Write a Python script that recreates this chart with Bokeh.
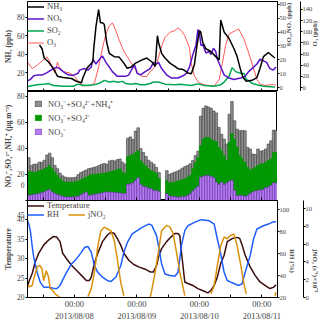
import math
from bokeh.plotting import figure
from bokeh.models import Range1d, LinearAxis, FixedTicker, Legend, LegendItem
from bokeh.layouts import column
from bokeh.embed import file_html
from bokeh.resources import INLINE

nan = float("nan")

# ---------------- time axis: hours since 2013-08-07 06:00 ----------------
day_ticks = [18, 42, 66, 90]
noon_ticks = [6, 30, 54, 78]
day_labels = ["00:00\n2013/08/08", "00:00\n2013/08/09", "00:00\n2013/08/10", "00:00\n2013/08/11"]

# ---------------- panel 1: gases ----------------
nh3_t = [4.6, 5.6, 6.4, 8.0, 9.9, 11.5, 13.7, 16.9, 18.8, 20.7, 21.3, 22.8, 24.1, 25.1, 25.4,
         26.3, 27.3, 28.0, 28.8, 29.5, 30.4, 31.4, 33.3, 35.2, 37.0, 38.3, 39.6, 41.5, 44.0, 45.8,
         47.7, 49.0, 49.9, 50.3, 51.5, 52.8, 54.7, 56.6, 57.8, 59.7, 61.6, 62.9, 64.1, 65.1, 66.0,
         66.5, 67.3, 68.5, 70.4, 72.3, 73.6, 74.2, 75.5, 77.4, 79.3, 80.5, 81.8, 82.8, 84.0, 86.2,
         88.1, 89.3, 90.6, 92.5, 93.7, 95.0]
nh3 = [50, 46, 36, 32, 25, 16.5, 15, 14, 11, 9.5, 15, 25, 29, 32, 45,
       70, 88, 74, 74, 72, 53, 41, 37.5, 37, 30.5, 25, 26, 30.5, 34, 36,
       32, 27, 60, 53, 41, 36, 30.5, 27, 24.5, 23.7, 20, 19, 29, 50, 65.6,
       64, 53, 46, 43, 37.5, 34, 77, 64, 57, 46, 37.5, 23.5, 15, 11, 12,
       15, 25, 37.5, 42, 39, 36]

nox_t = [0, 1.1, 2.4, 3.7, 5.6, 7.5, 9.3, 11.2, 12.5, 13.7, 15.6, 17.5, 19.4, 20.0, 21.9,
         23.2, 24.5, 25.1, 26.3, 27.6, 28.8, 29.5, 30.1, 31.4, 32.6, 34.5, 37.7, 38.9, 40.2, 41.2,
         42.1, 43.4, 45.2, 47.1, 48.4, 49.6, 50.3, 51.5, 53.4, 55.3, 57.8, 59.7, 61.0, 62.2, 63.5,
         64.7, 65.4, 66.0, 66.6, 67.3, 68.5, 69.8, 70.4, 71.4, 72.3, 72.9, 74.2, 75.5, 77.4, 79.3,
         81.8, 83.6, 84.9, 86.2, 88.1, 89.3, 90.6, 91.8, 93.1, 94.4, 95.4]
nox = [4.7, 5.9, 8.5, 9, 9, 10.8, 13, 14.8, 13.5, 11.5, 9.2, 8.8, 10.3, 12.6, 13.7,
       12.6, 14.8, 20.4, 17, 20.4, 22.7, 20.4, 18.2, 14.8, 11.5, 8.1, 8.1, 9.2, 13.7, 16,
       10.3, 9.2, 11.5, 13.7, 18.2, 17, 18.2, 13.7, 9.2, 6.9, 6.9, 8.5, 10.3, 14.8, 23.8,
       30.5, 41.8, 39.5, 30.5, 31, 24.9, 26, 23.8, 28.3, 26, 20.4, 14.8, 9.2, 6.9, 5.9,
       6.9, 8.1, 11.5, 13.7, 17, 20.4, 19.3, 18.2, 13.7, 12.6, 14.8]

so2_t = [0, 3.7, 6.2, 8.1, 9.9, 13.7, 17.5, 19.4, 21.3, 25.1, 27.6, 29.5, 31.4, 33.3, 34.5,
         36.4, 37.7, 39.6, 41.5, 43.4, 45.2, 47.1, 48.4, 49.6, 50.3, 52.8, 56.6, 58.5, 60.4, 62.9,
         65.4, 67.9, 71.7, 74.2, 75.5, 77.4, 78.6, 79.9, 81.8, 83.3, 84.0, 84.9, 86.2, 88.1, 90.6,
         95.0]
so2 = [0.8, 2, 2.5, 2.9, 1.5, 1, 1, 2.5, 1.5, 1.8, 3.1, 5.2, 4, 4.5, 3.8,
       4.5, 3, 2.5, 3, 2, 2, 3, 4, 4, 4, 2.5, 2, 2.5, 2, 1.5,
       2.7, 1.5, 1, 2, 4, 8.1, 14.4, 11.5, 10.3, 9.9, 5.9, 5, 3.1, 2, 1,
       0.5]

o3_t = [0, 1.8, 3.7, 5.6, 7.5, 8.4, 9.3, 10.6, 11.5, 12.2, 13.7, 16.3, 18.1, 20.0, 21.9,
        23.8, 25.7, 27.3, 28.8, 30.1, 31.4, 32.6, 33.9, 35.2, 37.0, 38.9, 40.8, 42.4, 44.0, 45.8,
        47.1, 48.4, 49.6, 51.5, 52.8, 54.7, 56.6, 57.8, 59.1, 60.4, 62.2, 62.9, 64.1, 66.0, 68.5,
        71.7, 73.6, 74.8, 76.1, 77.4, 79.9, 81.1, 83.0, 84.3, 85.5, 86.8, 88.1, 89.3, 91.2, 93.1,
        94.4, 95.4]
o3 = [45.5, 34, 40, 48, 55, 48, 37, 26, 45.5, 37, 28.7, 26, 20, 8, 3.4,
      3.4, 8, 37, 71, 96, 110, 116, 102, 85, 65, 51, 37, 26, 20, 20,
      28.7, 34, 42.7, 74, 90, 99, 102, 107, 102, 93, 71, 43, 20, 8, 4.5,
      2.5, 14.7, 43, 76, 96, 102, 105, 88, 71, 54, 34, 14.7, 6, 4, 5,
      6, 4]

# ---------------- panel 2: hourly aerosol bars ----------------
bar_hour = list(range(0, 51)) + list(range(53, 96))
total_ion = [33, 27, 28, 28, 29.5, 29.5, 31, 35, 36.5, 33, 27, 24.5, 21, 19, 18, 17.5, 17.5,
             17.5, 18, 20, 21.5, 22.5, 23.5, 24.5, 25, 25.5, 26, 27, 28, 28.5, 28, 30.5, 31,
             30.5, 31.5, 32, 29.5, 28, 48, 49, 47, 53.5, 56, 40, 37, 34, 31, 29.5, 28, 25.5, 21.5,
             23, 20, 21, 21.8, 22.6, 23.6, 25, 26.2, 27, 28.3, 30.9, 34.6, 38, 65, 71, 72.9, 72,
             71, 69, 67.5, 56.3, 51, 47.3, 43.5, 66.5, 76.2, 61.4, 55, 53.7, 54, 53.7, 41, 39.7,
             35.8, 35.4, 39.7, 38, 38.4, 39.7, 43.5, 46, 54.2, 54]
no3_so4 = [22.5, 22, 21.8, 22, 23, 23.5, 24.4, 25.5, 27, 24.4, 21.8, 19.3, 16.7, 15, 14.2, 14.2,
           14.2, 14.2, 14.5, 15, 16, 17, 18, 19, 20, 20, 20.5, 20.5, 20.8, 21, 21.5, 22, 22.6,
           23, 24, 24.4, 21.8, 21, 33.8, 34.6, 35.5, 37, 38.4, 30.8, 28.3, 26.5, 24.4, 23, 22, 21, 17,
           15.4, 13.4, 13.8, 14.2, 14.8, 15.4, 16, 16.7, 18, 19.3, 24.4, 29.5, 33, 42.3, 47.3,
           48.6, 48.6, 47.3, 46, 45.5, 41, 38.4, 34.6, 30.8, 44.8, 51.7, 47.3, 41, 34.6, 32,
           29.5, 25.6, 23.6, 24.4, 25.6, 27, 28.3, 28.3, 29.5, 30.8, 32, 37, 37]
no3 = [4, 4.2, 4.7, 5, 5.4, 6, 6.5, 7.8, 8.3, 6.5, 5.4, 4.5, 4, 3.1, 2.7, 2.7, 2.7, 2.7, 3.1,
       3.1, 4.5, 5.4, 6.5, 4, 4.2, 4.7, 5, 5.4, 5.8, 6.5, 6.5, 6.5, 6.5, 6.2, 6, 5.8, 5.4, 5.4,
       12.4, 12.9, 13.5, 15.4, 17.5, 12.4, 10.9, 10.4, 9.5, 9, 7.8, 7.8, 7,
       5.2, 3.4, 3.1, 3.1, 2.6, 2.6, 3.1, 3.1, 3.8, 5.2, 7.3, 9, 10.9, 18, 18.7, 19.3, 19.3,
       18.4, 17.5, 14.2, 12.4, 14.2, 12.4, 13.5, 15, 15.4, 7.8, 3.8, 3.8, 3.8, 3.1, 3.8, 5.2,
       6.5, 7.3, 7.8, 8.3, 8.3, 9.9, 10.4, 11.7, 13.5, 13.5]

# ---------------- panel 3: meteorology ----------------
temp_t = [0, 0.5, 1.8, 3.0, 4.3, 6.2, 8.1, 9.9, 11.2, 12.5, 13.5, 15.0, 16.9, 18.8, 20.7,
          22.6, 23.8, 24.5, 25.7, 27.0, 28.8, 30.7, 32.0, 33.3, 34.5, 35.8, 37.0, 38.9, 40.8, 42.7,
          45.2, 47.1, 48.4, 49.6, 50.3, 51.5, 53.4, 55.3, 56.6, 57.8, 58.5, 59.1, 60.4, 61.6, 63.5,
          65.4, 67.9, 69.2, 70.4, 71.7, 72.9, 74.2, 75.5, 76.7, 78.6, 80.5, 81.5, 82.4, 83.6, 85.5,
          87.4, 89.3, 91.2, 93.1, 94.4, 95.4]
temp = [22.7, 24, 26.2, 29.2, 31.4, 33.5, 34.8, 35.7, 35.6, 34.4, 31.4, 30, 28.3, 27, 25.7,
        24.4, 24.4, 25.3, 28.8, 31.4, 34.4, 36.1, 36.8, 36.5, 35.2, 33.5, 31.4, 29.6, 28.5, 27.9,
        27.3, 26.6, 26.6, 28.3, 30.5, 32.6, 34.4, 35.7, 36.5, 36.5, 35.9, 31.8, 24, 23.6, 23.1,
        22.3, 21.6, 21.2, 21.8, 23.1, 25.3, 28.8, 30.9, 34.4, 35.2, 35.5, 35.2, 33.5, 30.9, 27.9,
        25.7, 24, 23.1, 22.3, 22.6, 23.3]

rh_t = [0, 0.5, 1.1, 1.8, 2.4, 3.7, 4.9, 6.2, 8.1, 9.9, 11.2, 12.5, 13.7, 15.0, 16.9,
        18.8, 20.7, 21.9, 23.2, 24.5, 25.7, 27.0, 28.8, 30.7, 32.0, 33.9, 35.8, 37.0, 38.3, 40.2,
        42.1, 44.0, 46.5, 47.7, 49.0, 49.6, 50.3, 51.5, 52.8, 54.7, 56.6, 57.8, 59.1, 60.4, 61.6,
        64.1, 66.6, 69.8, 71.7, 72.9, 74.2, 75.5, 76.7, 78.6, 81.1, 82.4, 83.6, 85.5, 86.8, 88.1,
        90.6, 92.5, 94.4, 95.4]
rh = [90, 87, 81, 67, 56.6, 43, 34, 29.4, 29.4, 28.5, 28, 31, 37, 43, 50.6,
      55.2, 61.2, 65.7, 66.6, 61.2, 49, 43, 38.5, 35.5, 34.5, 38.5, 49, 61.2, 70, 78,
      81, 84, 87, 86, 79.4, 76, 67, 50.6, 41.5, 40, 39.4, 43, 67.3, 81, 85.5,
      88.5, 91, 90, 87, 73.4, 59.7, 43, 35.5, 33.4, 31, 32.5, 43, 58.2, 73.4, 82.5,
      85.5, 87, 89, 89]

jno2_t = [0, 0.5, 1.8, 2.4, 3.7, 4.7, 5.6, 6.2, 7.2, 8.1, 8.7, 9.7, 10.6, 12.5, 17.0,
          23.2, 24.5, 25.7, 27.0, 28.2, 29.5, 30.7, 32.0, 33.3, 34.5, 35.8, 37.0, 42.0, 47.1, 47.7,
          49.0, 50.3, 51.5, 53.4, 54.7, 55.9, 57.2, 58.5, 59.7, 60.4, 65.0, 70.4, 71.7, 72.9, 74.2,
          75.5, 76.7, 78.0, 79.3, 80.5, 81.8, 83.0, 84.0, 90.0, 95.0, 95.4]
jno2 = [1.5, 1.2, 1.35, 2.1, 3.4, 3.6, 3.2, 1.9, 3, 2.3, 1, 0.8, 0.4, 0, nan,
        0.1, 1, 2.8, 5.8, 7.5, 7.9, 7.7, 7.5, 6.4, 4.3, 1.7, 0.2, nan, 0, 0.8,
        2.8, 5.2, 7.5, 8.1, 7.9, 7.2, 5.1, 2.8, 1.2, 0.2, nan, 0.4, 1.35, 3.6, 5.8,
        6.8, 6.6, 7, 7.1, 5.8, 3.8, 1.7, 0.4, nan, 0.2, 0.6]

# ---------------- styling ----------------
FONT = "Liberation Serif"
TICK_FS = "7.5px"
RTICK_FS = "6.5px"
TITLE_FS = "7.5px"
RTITLE_FS = "7px"
LEG_FS = "8.5px"
FW = 250

x_range = Range1d(0, 96)


def make_fig(fh, y_range, top_border=0):
    p = figure(frame_width=FW, frame_height=fh, x_range=x_range, y_range=y_range,
               output_backend="svg", toolbar_location=None)
    p.outline_line_color = "black"
    p.outline_line_width = 1
    p.xgrid.visible = False
    p.ygrid.visible = False
    p.min_border_left = 19
    p.min_border_right = 0
    p.min_border_top = top_border
    p.min_border_bottom = 0
    return p


def style_y(ax, ticks, label, right=False, overrides=None):
    ax.ticker = FixedTicker(ticks=ticks)
    ax.axis_label = label
    ax.axis_label_text_font = FONT
    ax.axis_label_text_font_style = "bold"
    ax.axis_label_text_font_size = RTITLE_FS if right else TITLE_FS
    ax.axis_label_standoff = 0 if right else 1
    ax.major_label_text_font = FONT
    ax.major_label_text_font_size = RTICK_FS if right else TICK_FS
    ax.major_label_standoff = 0 if right else 1
    ax.major_tick_in = 0
    ax.major_tick_out = 2
    ax.minor_tick_in = 0
    ax.minor_tick_out = 0
    ax.axis_line_color = "black"
    ax.major_tick_line_color = "black"
    if overrides:
        ax.major_label_overrides = overrides


def style_x(ax, show):
    ax.axis_line_color = "black"
    ax.major_tick_line_color = "black"
    ax.minor_tick_line_color = "black"
    ax.major_tick_in = 3
    ax.major_tick_out = 0
    ax.minor_tick_in = 3
    ax.minor_tick_out = 0
    if show:
        ax.ticker = FixedTicker(ticks=day_ticks, minor_ticks=noon_ticks)
        ax.major_label_overrides = {t: l for t, l in zip(day_ticks, day_labels)}
        ax.major_label_text_font = FONT
        ax.major_label_text_font_size = "8.5px"
        ax.major_label_standoff = 1
    else:
        # tick marks only, no labels
        ax.ticker = FixedTicker(ticks=[], minor_ticks=sorted(day_ticks + noon_ticks))
        ax.major_label_standoff = 0


def orient(ax, angle):
    if "axis_label_orientation" in ax.properties():
        ax.axis_label_orientation = angle


def legend(items, **kw):
    opts = dict(margin=0, padding=0, spacing=1, glyph_width=17, glyph_height=9,
                label_height=9, label_standoff=3, label_text_font=FONT,
                label_text_font_size=LEG_FS, background_fill_alpha=0, border_line_alpha=0)
    opts.update(kw)
    return Legend(items=items, **opts)


# ---------------- figure 1 ----------------
p1 = make_fig(90, Range1d(0, 96.8), top_border=1)
p1.extra_y_ranges = {"sn": Range1d(-2.8, 62), "o3": Range1d(-6.9, 154)}
ax_sn = LinearAxis(y_range_name="sn")
ax_o3 = LinearAxis(y_range_name="o3")
p1.add_layout(ax_sn, "right")
p1.add_layout(ax_o3, "right")
style_y(p1.yaxis[0], [20, 40, 60, 80], "NH₃ (ppb)")
style_y(ax_sn, [0, 10, 20, 30, 40, 50, 60], "SO₂,NOₓ (ppb)", right=True)
style_y(ax_o3, [0, 20, 40, 60, 80, 100, 120, 140], "O₃ (ppb)", right=True)
orient(ax_sn, math.pi / 2)
orient(ax_o3, math.pi / 2)
style_x(p1.xaxis[0], False)

r_o3 = p1.line(o3_t, o3, y_range_name="o3", line_color="#ff5a5a", line_width=1)
r_so2 = p1.line(so2_t, so2, y_range_name="sn", line_color="#00a651", line_width=1.5)
r_nox = p1.line(nox_t, nox, y_range_name="sn", line_color="#5a14c8", line_width=1.5)
r_nh3 = p1.line(nh3_t, nh3, line_color="black", line_width=1.5)
p1.add_layout(legend([LegendItem(label="NH₃", renderers=[r_nh3]),
                      LegendItem(label="NOₓ", renderers=[r_nox]),
                      LegendItem(label="SO₂", renderers=[r_so2]),
                      LegendItem(label="O₃", renderers=[r_o3])], location="top_left",
                     spacing=2))

# ---------------- figure 2 ----------------
p2 = make_fig(109, Range1d(0, 84))
style_y(p2.yaxis[0], [0, 20, 40, 60, 80], "NO₃⁻,SO₄²⁻,NH₄⁺ (μg m⁻³)",
        overrides={0: "0\n"})
style_x(p2.xaxis[0], False)
bar_x = [h + 0.5 for h in bar_hour]
rb1 = p2.vbar(x=bar_x, top=total_ion, bottom=0, width=1, fill_color="#8f8f8f",
              line_color="#3a3a3a", line_width=0.6)
rb2 = p2.vbar(x=bar_x, top=no3_so4, bottom=0, width=1, fill_color="#009a00",
              line_color="#009a00", line_width=0.6)
rb3 = p2.vbar(x=bar_x, top=no3, bottom=0, width=1, fill_color="#b57cf0",
              line_color="#7030b0", line_width=0.6)
p2.add_layout(legend([LegendItem(label="NO₃⁻+SO₄²⁻+NH₄⁺", renderers=[rb1]),
                      LegendItem(label="NO₃⁻+SO₄²⁻", renderers=[rb2]),
                      LegendItem(label="NO₃⁻", renderers=[rb3])], location="top_left",
                     padding=7, spacing=3, glyph_width=8, glyph_height=7, label_height=10,
                     label_standoff=6))

# ---------------- figure 3 ----------------
p3 = make_fig(97, Range1d(20, 45))
p3.extra_y_ranges = {"rh": Range1d(20, 108.5), "j": Range1d(0, 10.9)}
ax_rh = LinearAxis(y_range_name="rh")
ax_j = LinearAxis(y_range_name="j")
p3.add_layout(ax_rh, "right")
p3.add_layout(ax_j, "right")
style_y(p3.yaxis[0], [20, 25, 30, 35, 40, 45], "Temperature", overrides={45: "\n45"})
style_y(ax_rh, [20, 40, 60, 80, 100], "RH (%)", right=True)
style_y(ax_j, [0, 2, 4, 6, 8, 10], "jNO₂ (s⁻¹)×10⁻³", right=True)
orient(ax_rh, -math.pi / 2)
orient(ax_j, -math.pi / 2)
style_x(p3.xaxis[0], True)

r_t = p3.line(temp_t, temp, line_color="#3d0c0c", line_width=1.5)
r_rh = p3.line(rh_t, rh, y_range_name="rh", line_color="#1e5eff", line_width=1.5)
r_j = p3.line(jno2_t, jno2, y_range_name="j", line_color="#d9900a", line_width=1.5)
p3.add_layout(legend([LegendItem(label="Temperature", renderers=[r_t])], location="top_left"))
p3.add_layout(legend([LegendItem(label="RH", renderers=[r_rh]),
                      LegendItem(label="jNO₂", renderers=[r_j])],
                     location=(0, 78), orientation="horizontal"))

layout = column(p1, p2, p3, spacing=0)
open("out.html", "w").write(file_html(layout, INLINE))
